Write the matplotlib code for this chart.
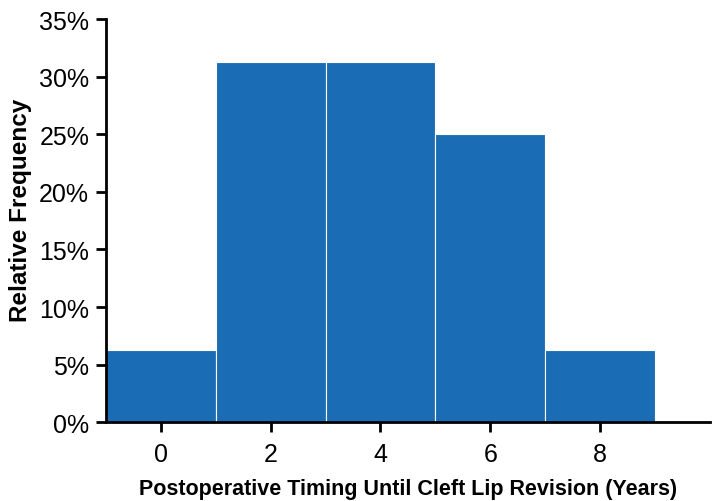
import numpy as np
import matplotlib.pyplot as plt
from matplotlib.ticker import PercentFormatter

plt.rcParams['font.family'] = ['Liberation Sans', 'DejaVu Sans']

# histogram bins (years) and relative frequency (%)
bin_edges = [-1, 1, 3, 5, 7, 9]
rel_freq = [6.25, 31.25, 31.25, 25.0, 6.25]
x_ticks = [0, 2, 4, 6, 8]

fig = plt.figure(figsize=(7.15, 5.02), dpi=100)
ax = fig.add_axes([0.148, 0.157, 0.845, 0.803])

lefts = np.array(bin_edges[:-1])
widths = np.diff(bin_edges)
ax.bar(lefts, rel_freq, width=widths, align='edge', color='#1a6db5',
       edgecolor='white', linewidth=0.8)

ax.set_xlim(-1, 10)
ax.set_ylim(0, 35)
ax.set_xticks(x_ticks)
ax.set_yticks(np.arange(0, 36, 5))
ax.yaxis.set_major_formatter(PercentFormatter(decimals=0))

for s in ['top', 'right']:
    ax.spines[s].set_visible(False)
for s in ['left', 'bottom']:
    ax.spines[s].set_linewidth(2)
ax.tick_params(axis='both', width=2, length=7, labelsize=18, pad=5)
ax.tick_params(axis='x', pad=7)

ax.set_xlabel('Postoperative Timing Until Cleft Lip Revision (Years)',
              fontsize=15.5, fontweight='bold', labelpad=9)
ax.set_ylabel('Relative Frequency', fontsize=17.5, fontweight='bold')
ax.yaxis.set_label_coords(-0.122, 0.528)

fig.savefig('out.png', dpi=100)
